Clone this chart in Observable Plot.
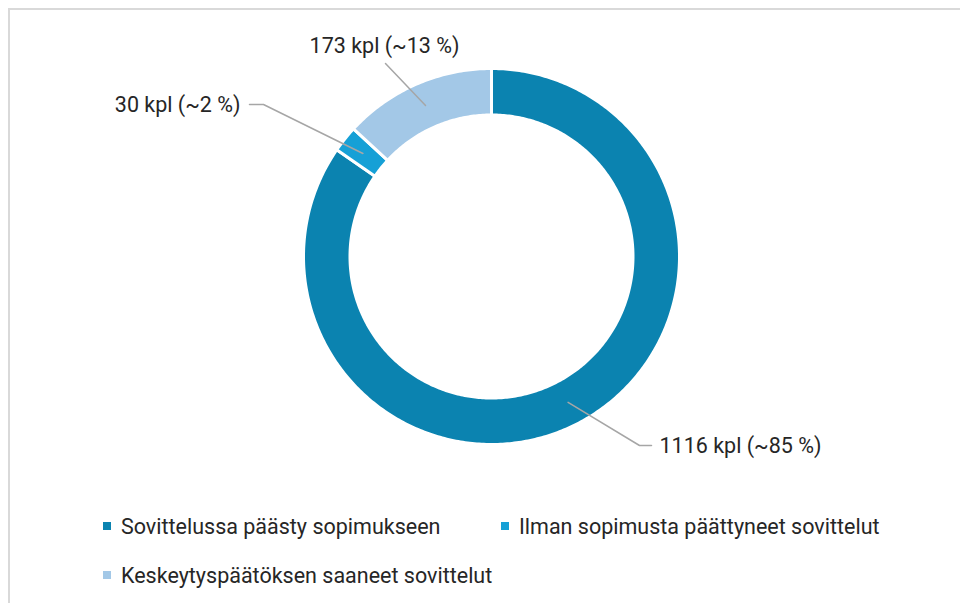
<!DOCTYPE html>
<html><head><meta charset="utf-8">
<script src="https://cdn.jsdelivr.net/npm/d3@7"></script>
<script src="https://cdn.jsdelivr.net/npm/@observablehq/plot@0.6"></script>
<style>
html,body{margin:0;padding:0;background:#fff;width:960px;height:603px;overflow:hidden;font-family:Roboto,"Open Sans",sans-serif;}
#frame{position:absolute;left:8px;top:8px;width:1000px;height:700px;border-left:2px solid #d9d9d9;border-top:2px solid #d9d9d9;box-sizing:border-box;}
#chart{position:absolute;left:0;top:0;}
.lg{position:absolute;font-size:21.5px;color:#262626;white-space:nowrap;line-height:24px;}
.lg i{display:inline-block;width:8px;height:8px;margin-right:10px;vertical-align:middle;position:relative;top:-2px;}
</style></head>
<body>
<div id="frame"></div>
<div id="chart"></div>
<div id="legend"></div>
<script>
// ---- data ----
const categories = ["Sovittelussa päästy sopimukseen", "Ilman sopimusta päättyneet sovittelut", "Keskeytyspäätöksen saaneet sovittelut"];
const values = [1116, 30, 173];
const unit = "kpl";
const colors = ["#0b83b0", "#16a0d6", "#a3c8e7"];

// ---- layout (pixels) ----
const W = 960, H = 490, CX = 491, CY = 256, R = 186.5, RIN = 143;
const sep = 3;
const labelLayout = [
  {elbow: [639, 445], end: [651, 445], text: [659, 446], anchor: "start"},
  {elbow: [263, 104], end: [249, 104], text: [240, 105], anchor: "end"},
  {elbow: null, end: [385, 63], text: [384, 46], anchor: "middle"}
];
const toX = px => (px - CX) / R, toY = py => (CY - py) / R;

const total = d3.sum(values);
const table = categories.map((c, i) => ({cat: c, value: values[i], color: colors[i]}));
const pie = d3.pie().sort(null).value(d => d.value).startAngle(0).endAngle(2 * Math.PI)(table);

const rOut = 1 + (sep / 2) / R, rIn = RIN / R - (sep / 2) / R;
const arcPts = [];
pie.forEach(p => {
  const n = Math.max(8, Math.ceil((p.endAngle - p.startAngle) * 80));
  for (let k = 0; k <= n; k++) {
    const a = p.startAngle + (p.endAngle - p.startAngle) * k / n;
    arcPts.push({cat: p.data.cat, x: rOut * Math.sin(a), y: rOut * Math.cos(a)});
  }
  for (let k = n; k >= 0; k--) {
    const a = p.startAngle + (p.endAngle - p.startAngle) * k / n;
    arcPts.push({cat: p.data.cat, x: rIn * Math.sin(a), y: rIn * Math.cos(a)});
  }
});

const rMid = (1 + RIN / R) / 2;
const leaders = [], labels = [];
pie.forEach((p, i) => {
  const a = (p.startAngle + p.endAngle) / 2;
  const L = labelLayout[i];
  const pts = [[rMid * Math.sin(a), rMid * Math.cos(a)]];
  if (L.elbow) pts.push([toX(L.elbow[0]), toY(L.elbow[1])]);
  pts.push([toX(L.end[0]), toY(L.end[1])]);
  pts.forEach(q => leaders.push({cat: p.data.cat, x: q[0], y: q[1]}));
  labels.push({
    x: toX(L.text[0]), y: toY(L.text[1]), anchor: L.anchor,
    text: `${p.data.value} ${unit} (~${Math.round(p.data.value / total * 100)} %)`
  });
});

const textOpts = anchor => ({
  x: "x", y: "y", text: "text", textAnchor: anchor, fontSize: 21.5,
  fill: "#262626", fontFamily: "Roboto, sans-serif"
});

const chart = Plot.plot({
  width: W, height: H, margin: 0,
  style: {background: "transparent", overflow: "visible"},
  x: {domain: [toX(0), toX(W)], range: [0, W], axis: null},
  y: {domain: [toY(H), toY(0)], range: [H, 0], axis: null},
  color: {domain: categories, range: colors},
  marks: [
    Plot.line(arcPts, {x: "x", y: "y", z: "cat", fill: "cat", stroke: "white", strokeWidth: sep, curve: "linear-closed"}),
    Plot.line(leaders, {x: "x", y: "y", z: "cat", stroke: "#a6a6a6", strokeWidth: 1.5}),
    ...["start", "middle", "end"].map(an => Plot.text(labels.filter(d => d.anchor === an), textOpts(an)))
  ]
});
document.getElementById("chart").appendChild(chart);

// ---- legend ----
const legendPos = [[103, 515], [501, 515], [103, 564]];
const lg = document.getElementById("legend");
categories.forEach((c, i) => {
  const d = document.createElement("div");
  d.className = "lg";
  d.style.left = legendPos[i][0] + "px";
  d.style.top = legendPos[i][1] + "px";
  d.innerHTML = `<i style="background:${colors[i]}"></i>${c}`;
  lg.appendChild(d);
});
</script>
</body></html>
